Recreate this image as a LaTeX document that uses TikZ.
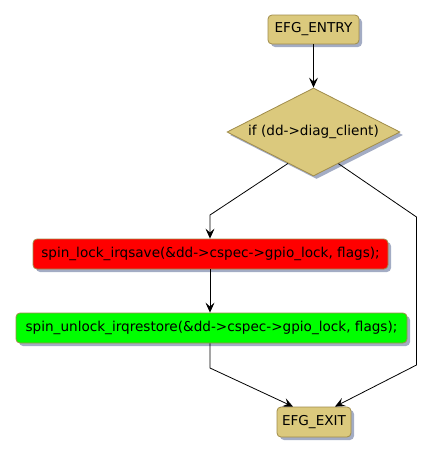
\documentclass[tikz,border=0pt]{standalone}
\usepackage{fontspec}
\setmainfont{DejaVu Sans}
\usetikzlibrary{shapes.geometric,arrows.meta,shadows,calc}
\definecolor{tan}{HTML}{DBC97D}
\definecolor{bord}{HTML}{A08C4A}
\definecolor{shad}{HTML}{A3ACC4}
\tikzset{
  x=1pt,y=-1pt,
  base/.style={draw=bord,line width=0.8pt,
    drop shadow={shadow xshift=3pt,shadow yshift=-3pt,fill=shad,opacity=1},
    font=\fontsize{13.6}{15}\selectfont,text=black},
  boxnode/.style={base,rectangle,rounded corners=4pt,inner sep=0pt},
  decnode/.style={base,diamond,aspect=1.97,inner sep=0pt,minimum width=173pt,minimum height=88pt},
  conn/.style={draw=black,line width=0.8pt},
  arr/.style={conn,-{Stealth[length=10pt,width=9pt,inset=4pt]}}
}
\begin{document}
\begin{tikzpicture}
\useasboundingbox (0,0) rectangle (432,456);
\node[boxnode,fill=tan,minimum width=91pt,minimum height=29pt] (entry) at (313.5,29.5) {EFG\_ENTRY};
\node[decnode,fill=tan] (dec) at (313.5,132) {if (dd->diag\_client)};
\node[boxnode,fill=red,minimum width=355pt,minimum height=30pt] (lock) at (210.5,254) {spin\_lock\_irqsave(\&dd->cspec->gpio\_lock, flags);};
\node[boxnode,fill=green,minimum width=391pt,minimum height=30pt] (unlock) at (211.5,328) {spin\_unlock\_irqrestore(\&dd->cspec->gpio\_lock, flags);};
\node[boxnode,fill=tan,minimum width=74pt,minimum height=30pt] (exit) at (314,422) {EFG\_EXIT};

\coordinate (dl) at ($(dec.west)!0.707!(dec.south)$);
\coordinate (dr) at ($(dec.south)!0.287!(dec.east)$);
\coordinate (lbend) at (210,215);
\coordinate (rbend1) at (416.5,217);
\coordinate (rbend2) at (416.5,365);
\coordinate (gbend) at (210,368);
\coordinate (exl) at ($(exit.north)+(-21,0)$);
\coordinate (exr) at ($(exit.north)+(21,0)$);

\draw[arr] (entry.south) -- (dec.north);
\draw[arr] (dl) -- (lbend) -- (lbend |- lock.north);
\draw[arr] (lock.south -| lbend) -- (lbend |- unlock.north);
\draw[arr] (unlock.south -| gbend) -- (gbend) -- (exl);
\draw[arr] (dr) -- (rbend1) -- (rbend2) -- (exr);
\end{tikzpicture}
\end{document}
